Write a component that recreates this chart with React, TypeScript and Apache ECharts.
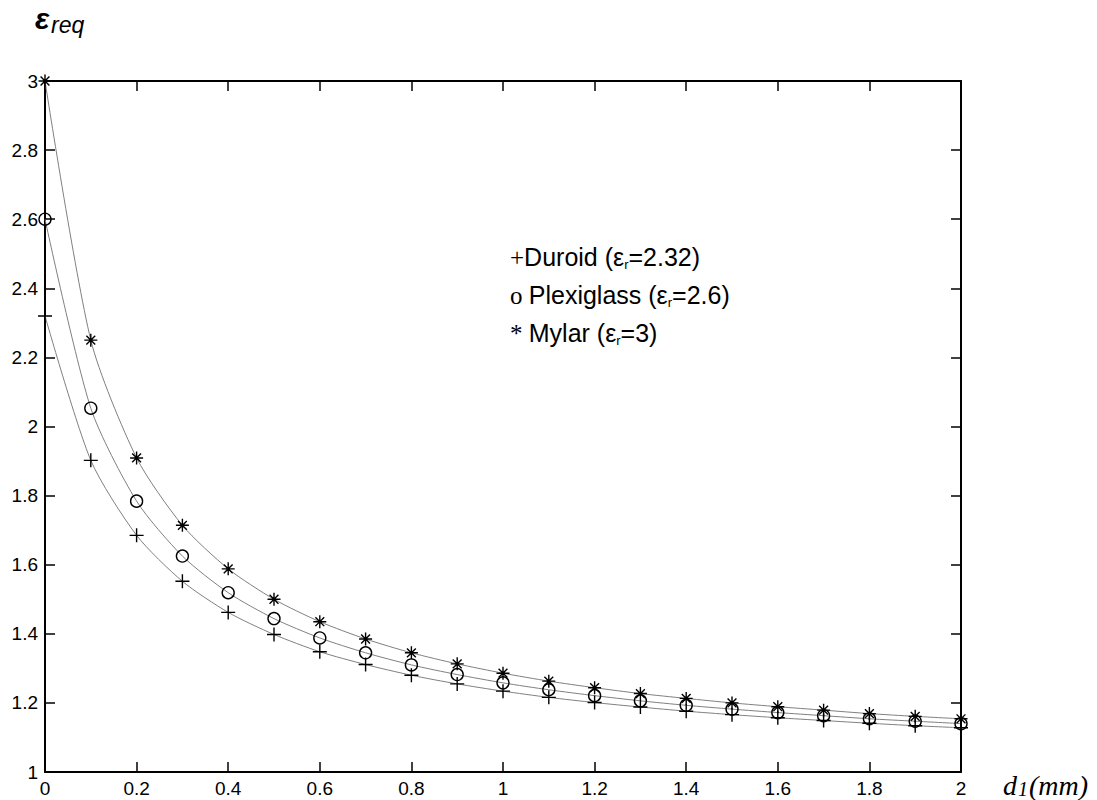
import React, { useEffect, useRef } from "react";
import * as echarts from "echarts";

const xValues = [0, 0.1, 0.2, 0.3, 0.4, 0.5, 0.6, 0.7, 0.8, 0.9, 1.0, 1.1, 1.2, 1.3, 1.4, 1.5, 1.6, 1.7, 1.8, 1.9, 2.0];
const duroid = [2.32, 1.902, 1.685, 1.552, 1.462, 1.398, 1.348, 1.311, 1.28, 1.255, 1.234, 1.216, 1.201, 1.188, 1.176, 1.166, 1.157, 1.149, 1.141, 1.134, 1.128];
const plexiglass = [2.6, 2.053, 1.784, 1.625, 1.519, 1.444, 1.388, 1.345, 1.31, 1.282, 1.258, 1.238, 1.221, 1.206, 1.193, 1.182, 1.172, 1.163, 1.154, 1.147, 1.14];
const mylar = [3.0, 2.25, 1.909, 1.714, 1.588, 1.5, 1.435, 1.385, 1.345, 1.313, 1.286, 1.263, 1.244, 1.227, 1.213, 1.2, 1.189, 1.179, 1.169, 1.161, 1.154];

const xMin = 0, xMax = 2, xStep = 0.2;
const yMin = 1, yMax = 3, yStep = 0.2;

const PLUS = "path://M0,5L10,5M5,0L5,10";
const STAR = "path://M0,5L10,5M5,0L5,10M1.6,1.6L8.4,8.4M1.6,8.4L8.4,1.6";

const pairs = (ys: number[]) => xValues.map((x, i) => [x, ys[i]]);

export default function App() {
  const ref = useRef<HTMLDivElement>(null);
  useEffect(() => {
    document.body.style.margin = "0";
    const chart = echarts.init(ref.current!, undefined, { renderer: "svg" });
    const axisLine = { show: true, onZero: false, lineStyle: { color: "#000", width: 2 } };
    const axisTick = { show: true, inside: true, length: 10, lineStyle: { color: "#000", width: 1.5 } };
    const label = { color: "#000", fontSize: 19, fontFamily: "Liberation Sans" };
    const lineStyle = { color: "#808080", width: 1 };
    const itemStyle = { color: "rgba(0,0,0,0)", borderColor: "#000", borderWidth: 1.4 };
    const common = {
      type: "line" as const,
      smooth: 0.25,
      showAllSymbol: true,
      lineStyle,
      itemStyle,
      silent: true,
      z: 3,
    };
    const black = { fill: "#000", color: "#000" };
    chart.setOption({
      animation: false,
      backgroundColor: "#fff",
      grid: { left: 45, top: 81, width: 916, height: 691, containLabel: false },
      xAxis: [
        {
          type: "value", min: xMin, max: xMax, interval: xStep, position: "bottom",
          axisLine, axisTick, splitLine: { show: false },
          axisLabel: { ...label, margin: 7 },
        },
        {
          type: "value", min: xMin, max: xMax, interval: xStep, position: "top",
          axisLine, axisTick, splitLine: { show: false }, axisLabel: { show: false },
        },
      ],
      yAxis: [
        {
          type: "value", min: yMin, max: yMax, interval: yStep, position: "left",
          axisLine, axisTick, splitLine: { show: false },
          axisLabel: { ...label, margin: 7 },
        },
        {
          type: "value", min: yMin, max: yMax, interval: yStep, position: "right",
          axisLine, axisTick, splitLine: { show: false }, axisLabel: { show: false },
        },
      ],
      series: [
        { ...common, name: "Duroid", data: pairs(duroid), symbol: PLUS, symbolSize: 14 },
        { ...common, name: "Plexiglass", data: pairs(plexiglass), symbol: "circle", symbolSize: 12 },
        { ...common, name: "Mylar", data: pairs(mylar), symbol: STAR, symbolSize: 13 },
      ],
      graphic: [
        {
          type: "text", x: 35, y: 18,
          style: { text: "ε", font: 'bold italic 30px "Liberation Sans"', fill: "#000", verticalAlign: "middle", align: "left" },
        },
        {
          type: "text", x: 51, y: 25,
          style: { text: "req", font: 'italic 23px "Liberation Sans"', fill: "#000", verticalAlign: "middle", align: "left" },
        },
        ...[
          ["+", "Duroid (ε", "=2.32)", 257],
          ["o ", "Plexiglass (ε", "=2.6)", 295],
          ["* ", "Mylar (ε", "=3)", 333],
        ].map(([p, a, b, y]) => ({
          type: "text", x: 510, y: y as number,
          style: {
            text: `{p|${p}}{t|${a}}{s|r}{t|${b}}`,
            verticalAlign: "middle", align: "left", fill: "#000",
            rich: {
              p: { fontFamily: "Liberation Serif", fontSize: 25, ...black },
              t: { fontFamily: "Liberation Sans", fontSize: 25, ...black },
              s: { fontFamily: "Liberation Sans", fontSize: 13, ...black, padding: [15, 0, 0, 0] },
            },
          },
        })),
        {
          type: "text", x: 1003, y: 785,
          style: {
            text: "{i|d}{s|1}{i|(mm)}",
            verticalAlign: "middle", align: "left", fill: "#000",
            rich: {
              i: { fontFamily: "Liberation Serif", fontStyle: "italic", fontSize: 28, ...black },
              s: { fontFamily: "Liberation Serif", fontStyle: "italic", fontSize: 20, ...black, padding: [8, 1, 0, 1] },
            },
          },
        },
      ],
    });
    return () => chart.dispose();
  }, []);
  return <div ref={ref} style={{ width: 1097, height: 800 }} />;
}
